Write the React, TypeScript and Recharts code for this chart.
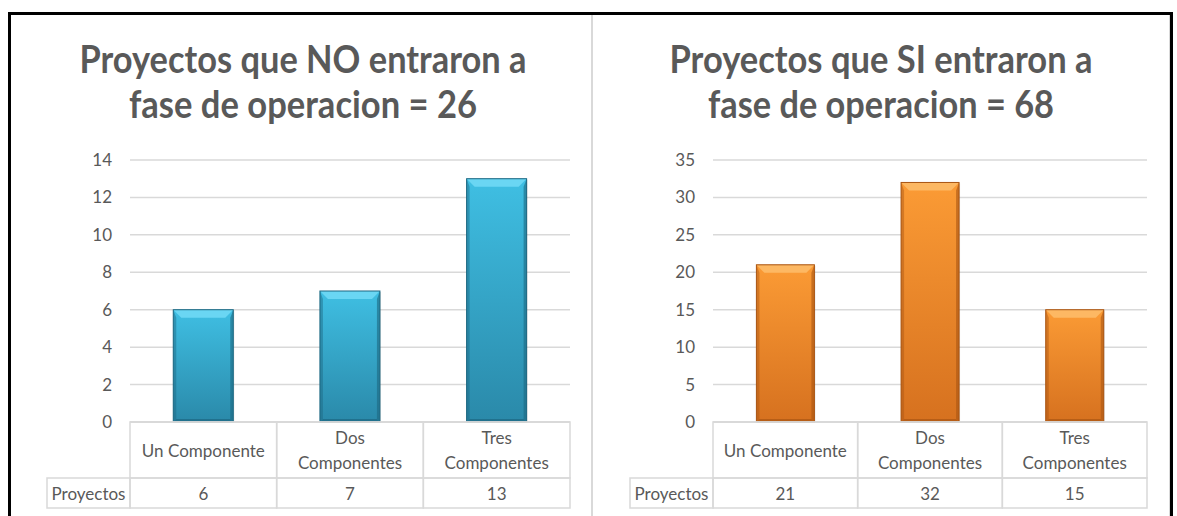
import { BarChart, Bar, XAxis, YAxis, CartesianGrid } from "recharts";

// ---- datos ----
const CATEGORIES = ["Un Componente", "Dos Componentes", "Tres Componentes"];
const NO_VALUES = [6, 7, 13];
const SI_VALUES = [21, 32, 15];
const NO_TICKS = [0, 2, 4, 6, 8, 10, 12, 14];
const SI_TICKS = [0, 5, 10, 15, 20, 25, 30, 35];
const ROW_LABEL = "Proyectos";
const NO_TITLE = ["Proyectos que NO entraron a", "fase de operacion = 26"];
const SI_TITLE = ["Proyectos que SI entraron a", "fase de operacion = 68"];

// ---- estilos ----
const FONT = "Lato, 'Open Sans', sans-serif";
const TEXT = "#595959";
const GRID = "#d9d9d9";
const CHART_H = 516;
const AXIS_H = 94;
const HEAD_H = 56;
const ROW_H = 30;

const BLUE = { top: "#3fbfe3", bottom: "#2a89a9", bevel: "#6ad6f3", edge: "#1d6781", id: "blue" };
const ORANGE = { top: "#fb9b35", bottom: "#d6711f", bevel: "#fdb863", edge: "#a95513", id: "orange" };

type Palette = typeof BLUE;

function BevelBar(props: any) {
  const { x, y, width: w, height: h, palette, index } = props;
  const p: Palette = palette;
  if (!h || h <= 0) return null;
  const b = 8;
  const s = 3;
  const gid = `grad-${p.id}-${index}`;
  return (
    <g>
      <defs>
        <linearGradient id={gid} x1="0" y1="0" x2="0" y2="1">
          <stop offset="0%" stopColor={p.top} />
          <stop offset="100%" stopColor={p.bottom} />
        </linearGradient>
      </defs>
      <rect x={x + 1} y={y + 1} width={w} height={h} fill="#000" opacity={0.12} />
      <rect x={x} y={y} width={w} height={h} fill={`url(#${gid})`} />
      <polygon points={`${x},${y} ${x + s},${y + b} ${x + s},${y + h - s} ${x},${y + h}`} fill={p.edge} opacity={0.45} />
      <polygon points={`${x + w},${y} ${x + w - s},${y + b} ${x + w - s},${y + h - s} ${x + w},${y + h}`} fill={p.edge} opacity={0.6} />
      <polygon points={`${x},${y + h} ${x + w},${y + h} ${x + w - s},${y + h - s} ${x + s},${y + h - s}`} fill={p.edge} opacity={0.7} />
      <polygon points={`${x},${y} ${x + w},${y} ${x + w - b},${y + b} ${x + b},${y + b}`} fill={p.bevel} />
      <rect x={x} y={y} width={w} height={h} fill="none" stroke={p.edge} strokeWidth={1} />
    </g>
  );
}

function TableTick(props: any) {
  const { x, y, payload, index, band, values, labelW } = props;
  const left = x - band / 2;
  const name: string = payload.value;
  const lines = name.length > 14 ? name.split(" ") : [name];
  const cy = y + HEAD_H / 2;
  return (
    <g fontFamily={FONT} fontSize={17} fill={TEXT}>
      <rect x={left} y={y} width={band} height={HEAD_H} fill="none" stroke={GRID} strokeWidth={1.5} />
      <rect x={left} y={y + HEAD_H} width={band} height={ROW_H} fill="none" stroke={GRID} strokeWidth={1.5} />
      {lines.map((l, i) => (
        <text key={i} x={x} y={cy + (i - (lines.length - 1) / 2) * 25} textAnchor="middle" dominantBaseline="central" fill={TEXT}>
          {l}
        </text>
      ))}
      <text x={x} y={y + HEAD_H + ROW_H / 2} textAnchor="middle" dominantBaseline="central" fill={TEXT}>
        {values[index]}
      </text>
      {index === 0 && (
        <g>
          <rect x={left - labelW} y={y + HEAD_H} width={labelW} height={ROW_H} fill="none" stroke={GRID} strokeWidth={1.5} />
          <text x={left - labelW / 2} y={y + HEAD_H + ROW_H / 2} textAnchor="middle" dominantBaseline="central" fill={TEXT}>
            {ROW_LABEL}
          </text>
        </g>
      )}
    </g>
  );
}

function Panel({
  left, width, marginLeft, marginRight, values, ticks, palette, title, titleWidths, titleX, gap,
}: {
  left: number; width: number; marginLeft: number; marginRight: number;
  values: number[]; ticks: number[]; palette: Palette; title: string[];
  titleWidths: number[]; titleX: number; gap: string;
}) {
  const data = CATEGORIES.map((name, i) => ({ name, value: values[i] }));
  const yAxisW = 60;
  const band = (width - marginLeft - yAxisW - marginRight) / CATEGORIES.length;
  return (
    <div style={{ position: "absolute", left, top: 0, width, height: CHART_H }}>
      <BarChart
        width={width}
        height={CHART_H}
        data={data}
        margin={{ top: 160, right: marginRight, left: marginLeft, bottom: 0 }}
        barCategoryGap={gap}
      >
        <CartesianGrid vertical={false} stroke={GRID} strokeWidth={1.5} />
        <XAxis
          dataKey="name"
          height={AXIS_H}
          interval={0}
          tickLine={false}
          tickSize={0}
          tickMargin={0}
          axisLine={{ stroke: GRID, strokeWidth: 1.5 }}
          tick={(p: any) => <TableTick {...p} band={band} values={values} labelW={83} />}
        />
        <YAxis
          width={yAxisW}
          domain={[ticks[0], ticks[ticks.length - 1]]}
          ticks={ticks}
          tickLine={false}
          axisLine={false}
          tickMargin={12}
          tick={{ fontSize: 17, fill: TEXT, fontFamily: FONT }}
        />
        <Bar
          dataKey="value"
          isAnimationActive={false}
          shape={(p: any) => <BevelBar {...p} palette={palette} />}
        />
      </BarChart>
      <svg width={width} height={140} style={{ position: "absolute", left: 0, top: 0, overflow: "visible" }}>
        {title.map((t, i) => (
          <text
            key={i}
            x={titleX}
            y={73 + i * 45}
            textAnchor="middle"
            fontFamily={FONT}
            fontWeight={700}
            fontSize={38}
            fill={TEXT}
            textLength={titleWidths[i]}
            lengthAdjust="spacingAndGlyphs"
          >
            {t}
          </text>
        ))}
      </svg>
    </div>
  );
}

export default function App() {
  return (
    <div style={{ position: "absolute", left: 0, top: 0, width: 1177, height: 516, background: "#fff", overflow: "hidden" }}>
      <Panel
        left={0}
        width={593}
        marginLeft={70}
        marginRight={23}
        values={NO_VALUES}
        ticks={NO_TICKS}
        palette={BLUE}
        title={NO_TITLE}
        titleWidths={[447, 348]}
        titleX={303}
        gap="29.5%"
      />
      <Panel
        left={593}
        width={584}
        marginLeft={60}
        marginRight={30}
        values={SI_VALUES}
        ticks={SI_TICKS}
        palette={ORANGE}
        title={SI_TITLE}
        titleWidths={[423, 346]}
        titleX={288}
        gap="30%"
      />
      <div style={{ position: "absolute", left: 591, top: 15, width: 2, height: 501, background: GRID }} />
      <div style={{ position: "absolute", left: 1169, top: 15, width: 1, height: 501, background: GRID }} />
      <div style={{ position: "absolute", left: 8, top: 12, width: 1159, height: 520, border: "3px solid #000" }} />
    </div>
  );
}
